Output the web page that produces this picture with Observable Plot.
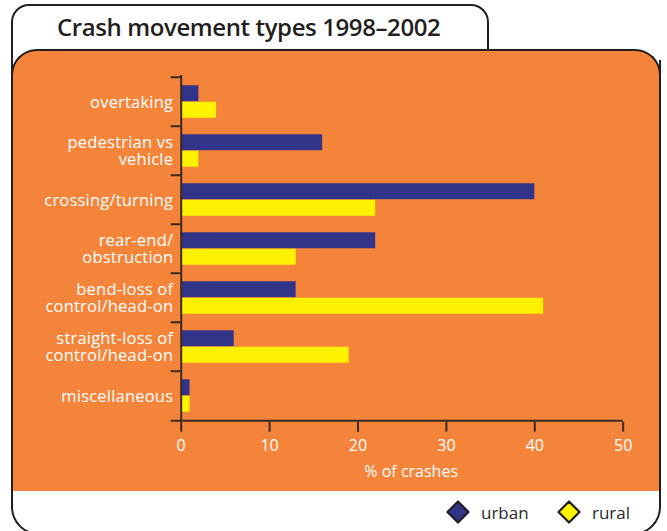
<!DOCTYPE html>
<html>
<head>
<meta charset="utf-8">
<script src="https://cdn.jsdelivr.net/npm/d3@7"></script>
<script src="https://cdn.jsdelivr.net/npm/@observablehq/plot@0.6"></script>
<style>
  html, body { margin: 0; padding: 0; background: #fff; }
  body { width: 667px; height: 531px; overflow: hidden; position: relative; font-family: "Open Sans", sans-serif; }
  .body { position: absolute; left: 11px; top: 60px; width: 646px; height: 473px; border: 2px solid #231f20; border-top: none; border-radius: 0 0 28px 28px; background: #fff; z-index: 0; }
  .tab { position: absolute; left: 11px; top: 4px; width: 474px; height: 100px; border: 2px solid #231f20; border-bottom: none; border-radius: 18px 18px 0 0; background: #fff; z-index: 1; }
  .title { position: absolute; left: 57px; top: 10px; font-size: 24px; font-weight: 600; color: #231f20; z-index: 4; white-space: nowrap; letter-spacing: -0.4px; }
  .panel { position: absolute; left: 11px; top: 49px; width: 646px; height: 440px; border: 2px solid #231f20; border-bottom: none; border-radius: 26px 26px 0 0; background: #f5843b; z-index: 2; }
  #chart { position: absolute; left: 0; top: 0; z-index: 3; }
  #chart g[aria-label="y-axis tick label"] text { letter-spacing: 0.2px; }
  .legend { position: absolute; top: 499px; left: 0; width: 667px; height: 26px; z-index: 4; }
  .item { position: absolute; top: 0; display: flex; align-items: center; height: 26px; font-size: 17px; color: #2b2b2b; }
  .item svg { margin-right: 11px; }
</style>
</head>
<body>
<div class="body"></div>
<div class="tab"></div>
<div class="title">Crash movement types 1998–2002</div>
<div class="panel"></div>
<div id="chart"></div>
<div class="legend" id="legend"></div>
<script>
const categories = [
  "overtaking",
  "pedestrian vs\nvehicle",
  "crossing/turning",
  "rear-end/\nobstruction",
  "bend-loss of\ncontrol/head-on",
  "straight-loss of\ncontrol/head-on",
  "miscellaneous"
];
const urban = [2, 16, 40, 22, 13, 6, 1];
const rural = [4, 2, 22, 13, 41, 19, 1];
const xTicks = [0, 10, 20, 30, 40, 50];
const seriesNames = ["urban", "rural"];
const seriesColors = ["#32348a", "#fff200"];

const data = categories.flatMap((c, i) => [
  {category: c, series: "urban", value: urban[i]},
  {category: c, series: "rural", value: rural[i]}
]);

const W = 667, H = 489;
const mTop = 75, mBottom = 67.3, mLeft = 180.7, mRight = 44.3;
const band = (H - mTop - mBottom) / categories.length;
const barH = band / 3;
const pad = band / 6;
const axisColor = "#3b2b22";

const chart = Plot.plot({
  width: W,
  height: H,
  marginTop: mTop,
  marginBottom: mBottom,
  marginLeft: mLeft,
  marginRight: mRight,
  style: {background: "transparent", fontFamily: "Open Sans, sans-serif", overflow: "visible"},
  x: {domain: [0, 50], ticks: xTicks},
  y: {domain: categories, padding: 0, label: null},
  color: {domain: seriesNames, range: seriesColors},
  marks: [
    Plot.barX(data.filter(d => d.series === "urban"), {
      x: "value", y: "category", fill: "series",
      insetTop: pad, insetBottom: band - pad - barH
    }),
    Plot.barX(data.filter(d => d.series === "rural"), {
      x: "value", y: "category", fill: "series",
      insetTop: pad + barH, insetBottom: pad
    }),
    // band-boundary ticks on the y axis
    Plot.axisY({tickSize: 10, text: null, label: null, dy: -band / 2, stroke: axisColor, strokeWidth: 2, strokeOpacity: 1}),
    Plot.axisY({tickSize: 0, tickPadding: 8, fill: "white", fontSize: 16.5, lineHeight: 1.07, label: null}),
    Plot.ruleX([0], {stroke: axisColor, strokeWidth: 2}),
    Plot.ruleY([categories[categories.length - 1]], {dy: band / 2, insetLeft: -10, stroke: axisColor, strokeWidth: 2}),
    Plot.axisX({
      ticks: xTicks, tickSize: 10, tickPadding: 7, stroke: axisColor, strokeWidth: 2, strokeOpacity: 1,
      fill: "white", fontSize: 16,
      label: "% of crashes", labelAnchor: "center", labelArrow: "none", labelOffset: 55
    })
  ]
});
document.getElementById("chart").appendChild(chart);

// nudge the x-axis label slightly right, as in the reference
const lbl = chart.querySelector('g[aria-label="x-axis label"]');
if (lbl) lbl.setAttribute("transform", (lbl.getAttribute("transform") || "") + " translate(9,0)");

// Legend
const legend = document.getElementById("legend");
const legendX = [446, 557];
seriesNames.forEach((name, i) => {
  const item = document.createElement("div");
  item.className = "item";
  item.style.left = legendX[i] + "px";
  item.innerHTML = `<svg width="24" height="24" viewBox="0 0 24 24"><polygon points="12,1.5 22.5,12 12,22.5 1.5,12" fill="${seriesColors[i]}" stroke="#231f20" stroke-width="2.2" stroke-linejoin="round"/></svg><span>${name}</span>`;
  legend.appendChild(item);
});
</script>
</body>
</html>
